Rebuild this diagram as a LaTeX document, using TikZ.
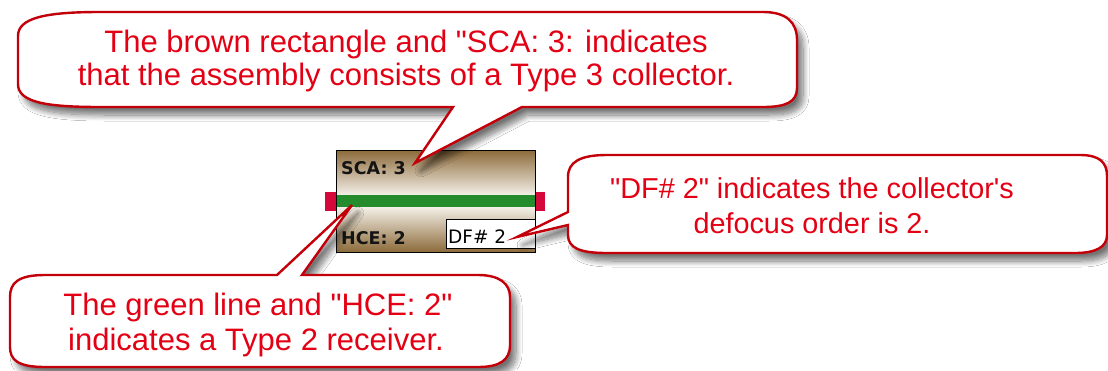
\documentclass[tikz,border=0pt]{standalone}
\usepackage{fontspec}
\setmainfont{Liberation Sans}[Ligatures=TeXOff]
\newfontfamily\boxfont{DejaVu Sans}[Ligatures=TeXOff]
\usetikzlibrary{shadows.blur}
\newcommand{\dq}{\symbol{34}}
\newcommand{\sq}{\symbol{39}}
\definecolor{txtred}{RGB}{228,0,20}
\definecolor{outred}{RGB}{195,0,10}
\definecolor{brn}{RGB}{140,106,58}
\definecolor{lite}{RGB}{244,240,232}
\definecolor{grn}{RGB}{36,140,44}
\definecolor{stub}{RGB}{212,8,58}
\definecolor{boxtxt}{RGB}{20,20,20}
\begin{document}
\begin{tikzpicture}[x=1pt,y=-1pt,
  callout/.style={draw=outred, line width=2.4pt, fill=white, line join=miter,
    blur shadow={shadow xshift=6pt, shadow yshift=-8pt, shadow blur steps=12, shadow blur radius=6pt, shadow opacity=55}},
  ctext/.style={font=\fontsize{31}{33}\selectfont, text=txtred, inner sep=0pt, anchor=base},
  ctextb/.style={font=\fontsize{28.8}{33}\selectfont, text=txtred, inner sep=0pt, anchor=base},
  btext/.style={font=\boxfont\bfseries\fontsize{17.5}{20}\selectfont, text=boxtxt, inner sep=0pt, anchor=base west},
  dtext/.style={font=\boxfont\fontsize{18.5}{20}\selectfont, text=black, inner sep=0pt, anchor=base west}
]
\useasboundingbox (0,0) rectangle (1108,370);
\fill[white] (0,0) rectangle (1108,370);

% ---- assembly box ----
\fill[stub] (325,192) rectangle (336,211);
\fill[stub] (535,192) rectangle (545,211);
\shade[top color=brn, bottom color=lite] (336,150) rectangle (535,195);
\shade[top color=lite, bottom color=brn] (336,207) rectangle (535,252);
\fill[grn] (336,195) rectangle (535,207);
\node (box) [draw=black, line width=1.4pt, minimum width=199pt, minimum height=102pt, inner sep=0pt, anchor=north west] at (336,150) {};
\node (sca) [btext] at (341,174) {SCA: 3};
\node (hce) [btext] at (341,244) {HCE: 2};
\node (dfbox) [draw=black, line width=0.9pt, fill=white, minimum width=89pt, minimum height=29pt, inner sep=0pt, anchor=north west] at (446,219) {};
\node (dftext) [dtext] at (448,243) {DF\# 2};

% ---- callout 1 ----
\path[callout] (100,12) -- (763,12) .. controls (786,12) and (797,22) .. (797,40)
  -- (797,88) .. controls (797,102) and (786,107) .. (763,107)
  -- (522,107) -- (415,163) -- (453,107) -- (100,107)
  .. controls (45,107) and (18,102) .. (18,84)
  -- (18,36) .. controls (18,18) and (45,12) .. (100,12) -- cycle;
\node (c1a) [ctext] at (406,52) {The brown rectangle and \dq SCA: 3: indicates};
\node (c1b) [ctext] at (406,85) {that the assembly consists of a Type 3 collector.};

% ---- callout 2 ----
\path[callout] (607,155) -- (1080,155) .. controls (1099,155) and (1107,162) .. (1107,176)
  -- (1107,235) .. controls (1107,247) and (1096,253) .. (1075,253)
  -- (607,253) .. controls (580,253) and (568,248) .. (568,235)
  -- (568,225) -- (517,237) -- (568,212)
  -- (568,177) .. controls (568,162) and (580,155) .. (607,155) -- cycle;
\node (c2a) [ctextb] at (812,198) {\dq DF\# 2\dq\ indicates the collector\sq s};
\node (c2b) [ctextb] at (812,233) {defocus order is 2.};

% ---- callout 3 ----
\path[callout] (45,275) -- (277,275) -- (352,205) -- (302,275) -- (478,275)
  .. controls (500,275) and (510,284) .. (510,297)
  -- (510,345) .. controls (510,360) and (500,367) .. (478,367)
  -- (45,367) .. controls (18,367) and (10,360) .. (10,347)
  -- (10,297) .. controls (10,283) and (18,275) .. (45,275) -- cycle;
\node (c3a) [ctext] at (258,315) {The green line and \dq HCE: 2\dq};
\node (c3b) [ctext] at (256,350) {indicates a Type 2 receiver.};
\end{tikzpicture}
\end{document}
